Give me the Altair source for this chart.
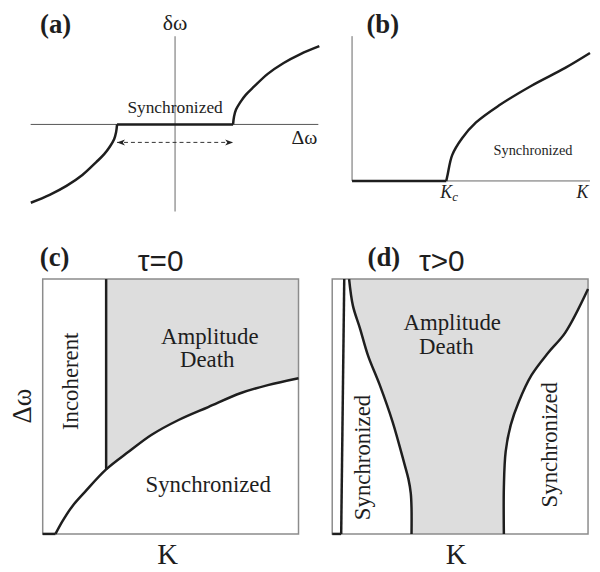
import altair as alt
import pandas as pd

SERIF = "Liberation Serif"
SANS = "Liberation Sans"
INK = "#1e1e1e"
BOXC = "#8c8c8c"
FILL = "#dddddd"
SMOOTH = "catmull-rom"

# ---------------- data ----------------
# (a) frequency mismatch δω vs detuning Δω (units: half-width of locking range)
a_branch_x = [1.0, 1.017, 1.051, 1.12, 1.222, 1.359, 1.598, 1.872, 2.162, 2.487]
a_branch_y = [0.0, 0.137, 0.256, 0.376, 0.513, 0.650, 0.872, 1.060, 1.214, 1.350]
a_lock = [-1.0, 1.0]

# (b) order parameter vs K (units: Kc)
b_flat_k = [0.0, 1.0]
b_curve_k = [1.0, 1.014, 1.063, 1.168, 1.316, 1.558, 1.905, 2.263, 2.526]
b_curve_r = [0.0, 0.063, 0.274, 0.453, 0.621, 0.8, 1.011, 1.2, 1.358]

# (c) tau = 0 phase diagram (box 0..10 x 0..10)
c_base_k = [0, 0.50]
c_k = [0.50, 0.78, 1.16, 1.67, 2.48, 3.37, 4.26, 5.31, 6.47, 7.75, 8.80, 10]
c_w = [0, 0.51, 1.09, 1.67, 2.53, 3.23, 3.89, 4.47, 4.98, 5.53, 5.84, 6.11]
c_incoh_k = 2.48

# (d) tau > 0 phase diagram
d_left_k = [0.66, 0.81, 1.09, 1.40, 1.86, 2.36, 2.83, 2.98, 3.07, 3.10, 3.10]
d_left_w = [10, 8.95, 8.05, 7.00, 5.84, 4.40, 2.72, 2.15, 1.60, 1.00, 0]
d_right_k = [6.71, 6.71, 6.78, 6.98, 7.29, 7.79, 8.45, 9.11, 10]
d_right_w = [0, 1.83, 3.23, 4.28, 5.18, 6.23, 7.12, 7.90, 9.61]
d_strip_k = [0.35, 0.47]
d_strip_w = [0, 10]
d_base_k = [0, 0.35]


# ---------------- helpers ----------------
def scales(xd, yd):
    X = lambda f: alt.X(f, type="quantitative", scale=alt.Scale(domain=xd, nice=False, zero=False), axis=None)
    Y = lambda f: alt.Y(f, type="quantitative", scale=alt.Scale(domain=yd, nice=False, zero=False), axis=None)
    return X, Y


def path_df(segments):
    rows = []
    for s, (xs, ys) in enumerate(segments):
        for i, (x, y) in enumerate(zip(xs, ys)):
            rows.append({"x": x, "y": y, "seg": s, "i": i})
    return pd.DataFrame(rows)


def lines(X, Y, segments, color=INK, width=2.5, dash=None, interp="linear"):
    kw = dict(color=color, strokeWidth=width, strokeJoin="round", interpolate=interp)
    if dash:
        kw["strokeDash"] = dash
    return alt.Chart(path_df(segments)).mark_line(**kw).encode(
        x=X("x"), y=Y("y"), detail="seg:N", order=alt.Order("i:Q"))


def rect(X, Y, x0, x1, y0, y1, **kw):
    df = pd.DataFrame({"x": [x0], "x2": [x1], "y": [y0], "y2": [y1]})
    return alt.Chart(df).mark_rect(**kw).encode(x=X("x"), x2="x2", y=Y("y"), y2="y2")


def varea(X, Y, xs, ys, y2, color):
    df = pd.DataFrame({"x": xs, "y": ys, "y2": [y2] * len(xs)})
    return alt.Chart(df).mark_area(color=color, interpolate=SMOOTH, opacity=1).encode(
        x=X("x"), y=Y("y"), y2="y2")


def harea(X, Y, xs, ys, x2, color):
    df = pd.DataFrame({"x": xs, "y": ys, "x2": [x2] * len(xs)})
    return alt.Chart(df).mark_area(color=color, interpolate=SMOOTH, orient="horizontal",
                                   opacity=1).encode(x=X("x"), x2="x2", y=Y("y"))


def text(X, Y, t, x, y, size, font=SERIF, angle=0, weight="normal", style="normal",
         align="center", baseline="alphabetic"):
    df = pd.DataFrame({"x": [x], "y": [y], "t": [t]})
    return alt.Chart(df).mark_text(
        font=font, fontSize=size, angle=angle, fontWeight=weight, fontStyle=style,
        align=align, baseline=baseline, color=INK).encode(x=X("x"), y=Y("y"), text="t:N")


def dom(v0, v1, origin, unit, flip=False):
    if flip:
        return [(origin - v1) / unit, (origin - v0) / unit]
    return [(v0 - origin) / unit, (v1 - origin) / unit]


# ---------------- panel (a) ----------------
Xa, Ya = scales(dom(8, 325, 173.5, 58.5), dom(8, 215, 119, 58.5, flip=True))
neg = lambda v: [-u for u in v]
arrow_r = "M0,0 L-2,-0.75 L-1.45,0 L-2,0.75 Z"
arrow_l = "M0,0 L2,-0.75 L1.45,0 L2,0.75 Z"
arrows = pd.DataFrame({"x": a_lock, "y": [-0.31, -0.31], "s": ["l", "r"]})
panel_a = alt.layer(
    lines(Xa, Ya, [([-2.49, 2.47], [0, 0])], color="#555555", width=1),
    lines(Xa, Ya, [([0, 0], [1.52, -1.50])], color="#9a9a9a", width=1.5),
    lines(Xa, Ya, [(a_lock, [0, 0])]),
    lines(Xa, Ya, [(a_branch_x, a_branch_y), (neg(a_branch_x), neg(a_branch_y))], interp=SMOOTH),
    lines(Xa, Ya, [(a_lock, [-0.31, -0.31])], color="#333333", width=1, dash=[4, 3]),
    alt.Chart(arrows[arrows.s == "r"]).mark_point(shape=arrow_r, filled=True, size=64,
                                                  color="#222222", opacity=1).encode(x=Xa("x"), y=Ya("y")),
    alt.Chart(arrows[arrows.s == "l"]).mark_point(shape=arrow_l, filled=True, size=64,
                                                  color="#222222", opacity=1).encode(x=Xa("x"), y=Ya("y")),
    text(Xa, Ya, "(a)", -2.06, 1.57, 27, weight="bold"),
    text(Xa, Ya, "δω", 0.0, 1.62, 22),
    text(Xa, Ya, "Synchronized", 0.0, 0.205, 17.5),
    text(Xa, Ya, "Δω", 2.23, -0.34, 20),
).properties(width=317, height=207)

# ---------------- panel (b) ----------------
Xb, Yb = scales(dom(325, 592, 352, 95), dom(8, 215, 176, 95, flip=True))
panel_b = alt.layer(
    lines(Xb, Yb, [([0, 0], [0, 1.537]), ([0, 2.526], [0, 0])], color="#666666", width=1),
    lines(Xb, Yb, [(b_flat_k, [0, 0])]),
    lines(Xb, Yb, [(b_curve_k, b_curve_r)], interp=SMOOTH),
    text(Xb, Yb, "(b)", 0.326, 1.568, 27, weight="bold"),
    text(Xb, Yb, "Synchronized", 1.921, 0.274, 14.5),
    text(Xb, Yb, "K", 1.0, -0.179, 18, style="italic"),
    text(Xb, Yb, "c", 1.063, -0.21, 13, style="italic", align="left"),
    text(Xb, Yb, "K", 2.447, -0.179, 18, style="italic"),
).properties(width=267, height=207)

# ---------------- panel (c) ----------------
Xc, Yc = scales(dom(8, 315, 40, 25.8), dom(215, 564, 530, 25.7, flip=True))
c_sel = [i for i, k in enumerate(c_k) if k >= c_incoh_k]
c_cross = c_w[c_k.index(c_incoh_k)]
panel_c = alt.layer(
    varea(Xc, Yc, [c_k[i] for i in c_sel], [c_w[i] for i in c_sel], 10, FILL),
    rect(Xc, Yc, 0, 10, 0, 10, fillOpacity=0, stroke=BOXC, strokeWidth=1.5),
    lines(Xc, Yc, [(c_base_k, [0, 0]), ([c_incoh_k, c_incoh_k], [c_cross, 10])]),
    lines(Xc, Yc, [(c_k, c_w)], interp=SMOOTH),
    text(Xc, Yc, "(c)", 0.465, 10.5, 27, weight="bold"),
    text(Xc, Yc, "τ=0", 4.61, 10.31, 30, font=SANS),
    text(Xc, Yc, "Incoherent", 1.10, 5.99, 23, angle=270, baseline="middle"),
    text(Xc, Yc, "Amplitude", 6.53, 7.47, 23),
    text(Xc, Yc, "Death", 6.43, 6.54, 23),
    text(Xc, Yc, "Synchronized", 6.47, 1.63, 23),
    text(Xc, Yc, "Δω", -0.78, 5.02, 27, angle=270, baseline="middle"),
    text(Xc, Yc, "K", 4.88, -1.17, 29),
).properties(width=307, height=349)

# ---------------- panel (d) ----------------
Xd, Yd = scales(dom(315, 592, 332, 25.8), dom(215, 564, 530, 25.7, flip=True))
panel_d = alt.layer(
    rect(Xd, Yd, 0, 10, 0, 10, color=FILL),
    harea(Xd, Yd, d_left_k, d_left_w, 0, "white"),
    harea(Xd, Yd, d_right_k, d_right_w, 10, "white"),
    rect(Xd, Yd, 0, 10, 0, 10, fillOpacity=0, stroke=BOXC, strokeWidth=1.5),
    lines(Xd, Yd, [(d_strip_k, d_strip_w), (d_base_k, [0, 0])]),
    lines(Xd, Yd, [(d_left_k, d_left_w), (d_right_k, d_right_w)], interp=SMOOTH),
    text(Xd, Yd, "(d)", 2.02, 10.5, 27, weight="bold"),
    text(Xd, Yd, "τ>0", 4.28, 10.31, 30, font=SANS),
    text(Xd, Yd, "Amplitude", 4.69, 8.02, 23),
    text(Xd, Yd, "Death", 4.46, 7.08, 23),
    text(Xd, Yd, "Synchronized", 1.20, 3.0, 23, angle=270, baseline="middle"),
    text(Xd, Yd, "Synchronized", 8.53, 3.50, 23, angle=270, baseline="middle"),
    text(Xd, Yd, "K", 4.84, -1.17, 29),
).properties(width=277, height=349)

top = alt.hconcat(panel_a, panel_b, spacing=0, bounds="flush").resolve_scale(x="independent", y="independent")
bottom = alt.hconcat(panel_c, panel_d, spacing=0, bounds="flush").resolve_scale(x="independent", y="independent")
chart = alt.vconcat(top, bottom, spacing=0).properties(
    padding=0, background="white"
).configure_view(stroke="transparent")

chart.save("out.html", embed_options={"renderer": "svg", "actions": False})
